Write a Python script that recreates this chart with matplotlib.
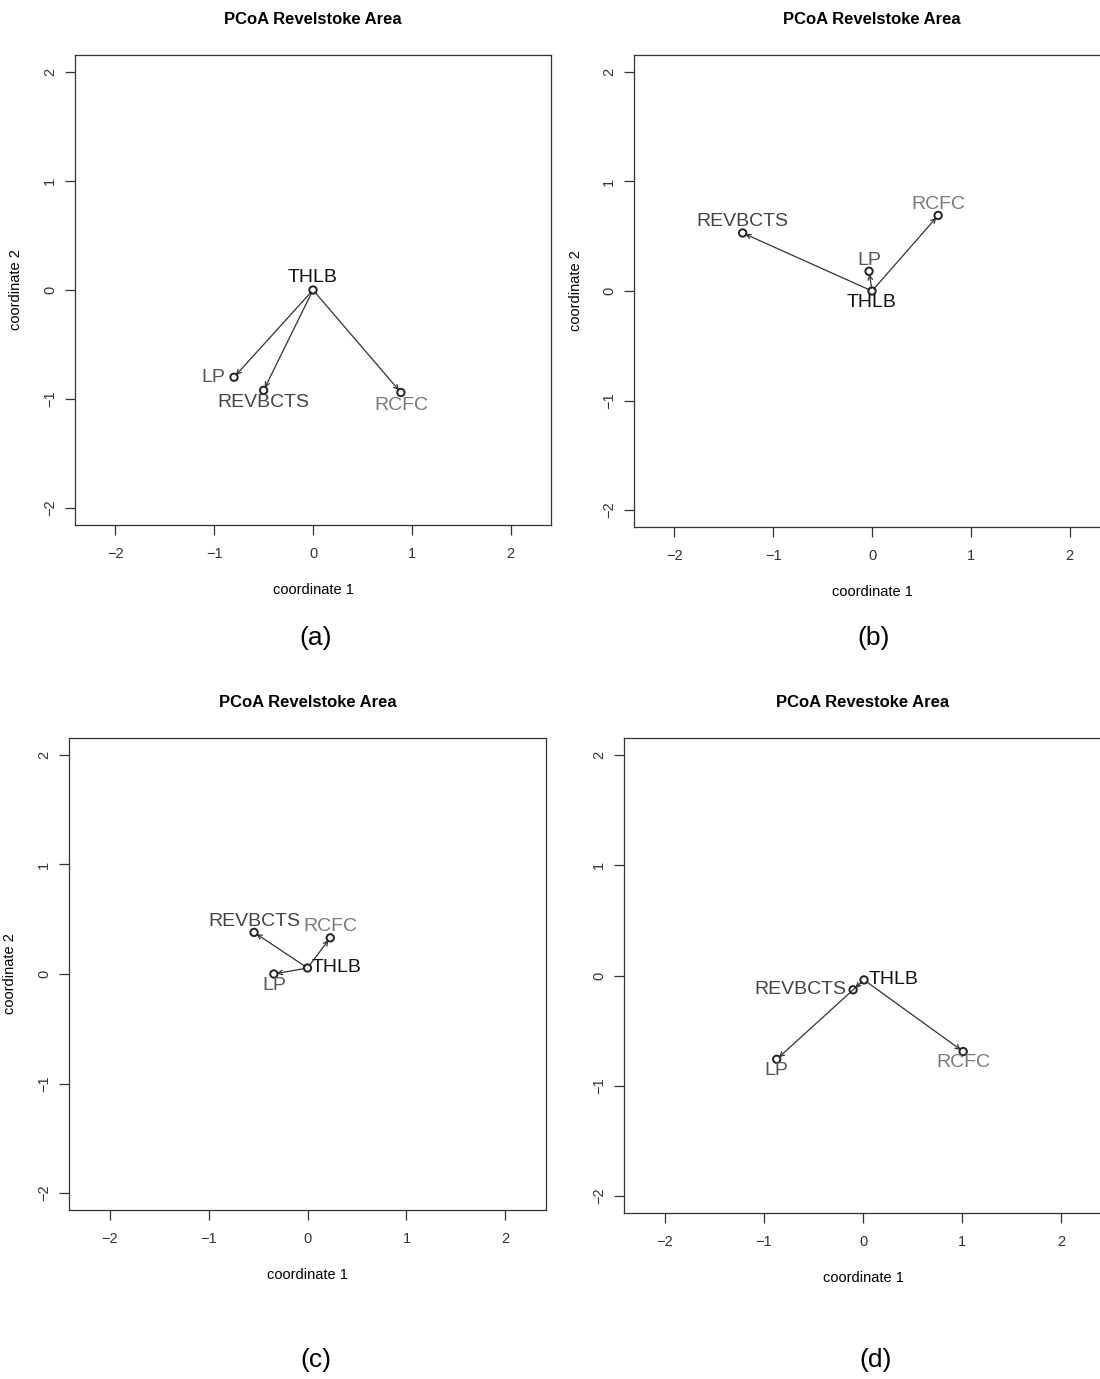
import matplotlib.pyplot as plt

plt.rcParams['font.family'] = ['Liberation Sans', 'DejaVu Sans']

# site names
sites = ["THLB", "LP", "REVBCTS", "RCFC"]

# PCoA coordinates (coordinate 1, coordinate 2)
a_x = [0.00, -0.80, -0.50, 0.89]
a_y = [0.00, -0.80, -0.92, -0.94]

b_x = [0.00, -0.03, -1.31, 0.67]
b_y = [0.00, 0.18, 0.53, 0.69]

c_x = [0.00, -0.34, -0.54, 0.23]
c_y = [0.055, 0.00, 0.38, 0.33]

d_x = [0.01, -0.87, -0.10, 1.01]
d_y = [-0.04, -0.76, -0.13, -0.69]

titles = ["PCoA Revelstoke Area", "PCoA Revelstoke Area",
          "PCoA Revelstoke Area", "PCoA Revestoke Area"]
captions = ["(a)", "(b)", "(c)", "(d)"]

label_colors = {"THLB": "#111111", "LP": "#555555",
                "REVBCTS": "#444444", "RCFC": "#7a7a7a"}

# label placement per panel: (dx, dy in points, ha, va)
placements = [
    {"THLB": (0, 3, "center", "bottom"), "LP": (-6, 0, "right", "center"),
     "REVBCTS": (0, -3, "center", "top"), "RCFC": (0, -3, "center", "top")},
    {"THLB": (0, -2, "center", "top"), "LP": (0, 2, "center", "bottom"),
     "REVBCTS": (0, 2, "center", "bottom"), "RCFC": (0, 2, "center", "bottom")},
    {"THLB": (3, 0, "left", "center"), "LP": (0, -2, "center", "top"),
     "REVBCTS": (0, 2, "center", "bottom"), "RCFC": (0, 2, "center", "bottom")},
    {"THLB": (3, 0, "left", "center"), "LP": (0, -2, "center", "top"),
     "REVBCTS": (-5, 0, "right", "center"), "RCFC": (0, -2, "center", "top")},
]

W, H = 1100, 1379
fig = plt.figure(figsize=(W / 100, H / 100), dpi=100)

# axes boxes in pixels: left, right, top, bottom
boxes = [(75, 551, 55, 525), (634, 1110, 55, 527),
         (69, 546, 738, 1210), (624, 1102, 738, 1213)]
caption_pos = [(316, 638), (874, 638), (316, 1360), (876, 1360)]
panels = [(a_x, a_y), (b_x, b_y), (c_x, c_y), (d_x, d_y)]

for i, (l, r, t, b) in enumerate(boxes):
    ax = fig.add_axes([l / W, 1 - b / H, (r - l) / W, (b - t) / H])
    xs, ys = panels[i]
    ax.set_xlim(-2.41, 2.41)
    ax.set_ylim(-2.155, 2.155)

    # arrows from THLB to the other sites
    for j in range(1, len(sites)):
        ax.annotate("", xy=(xs[j], ys[j]), xytext=(xs[0], ys[0]),
                    arrowprops=dict(arrowstyle="->", color="#333333", lw=0.9,
                                    shrinkA=2, shrinkB=2, mutation_scale=8))
    ax.scatter(xs, ys, s=28, facecolors="none", edgecolors="#222222",
               linewidths=1.4, zorder=3)
    for j, name in enumerate(sites):
        dx, dy, ha, va = placements[i][name]
        ax.annotate(name, (xs[j], ys[j]), xytext=(dx, dy),
                    textcoords="offset points", ha=ha, va=va,
                    fontsize=14, color=label_colors[name])

    ax.set_xticks([-2, -1, 0, 1, 2])
    ax.set_yticks([-2, -1, 0, 1, 2])
    ax.set_xticklabels(["\u22122", "\u22121", "0", "1", "2"])
    ax.set_yticklabels(["\u22122", "\u22121", "0", "1", "2"], rotation=90,
                       va="center")
    ax.tick_params(direction="out", length=7, width=0.9, labelsize=10.5,
                   colors="#333333")
    ax.tick_params(axis="x", pad=9)
    ax.tick_params(axis="y", pad=6)
    for sp in ax.spines.values():
        sp.set_color("#333333")
        sp.set_linewidth(0.9)
    ax.set_title(titles[i], fontsize=12, fontweight="bold", pad=22)
    ax.set_xlabel("coordinate 1", fontsize=10.5, labelpad=16)
    if i != 3:
        ax.set_ylabel("coordinate 2", fontsize=10.5, labelpad=14)
    cx, cy = caption_pos[i]
    fig.text(cx / W, 1 - cy / H, captions[i], fontsize=19,
             ha="center", va="center")

fig.savefig("out.png", dpi=100)
